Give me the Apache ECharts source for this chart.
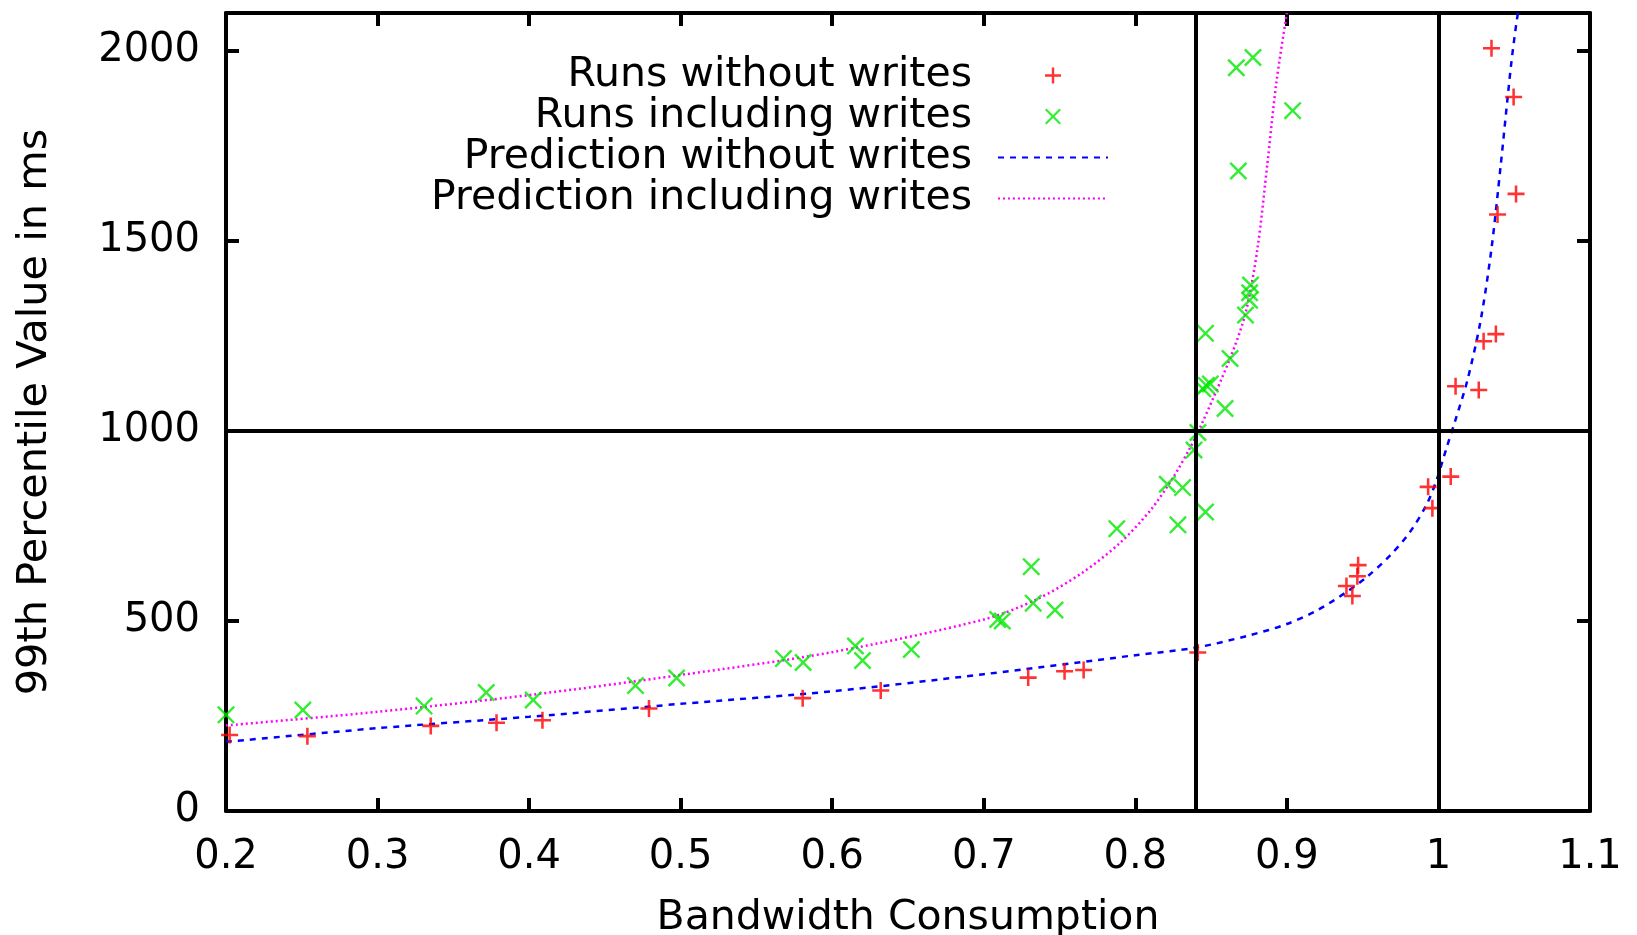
<!DOCTYPE html>
<html>
<head>
<meta charset="utf-8">
<title>99th Percentile vs Bandwidth</title>
<script src="https://cdn.jsdelivr.net/npm/echarts@6/dist/echarts.min.js"></script>
<style>
  html, body { margin: 0; padding: 0; background: #fff; }
  #main { width: 1637px; height: 935px; }
</style>
</head>
<body>
<div id="main"></div>
<script>
// measured runs: [bandwidth consumption, 99th percentile ms]
var runsWithoutWrites = [
  [0.2024, 200], [0.2537, 197], [0.3351, 224], [0.3785, 232], [0.4088, 239],
  [0.4791, 270], [0.5805, 297], [0.632, 317], [0.7293, 351], [0.7533, 368],
  [0.7659, 371], [0.8412, 417], [0.9393, 592], [0.9432, 566], [0.9465, 618],
  [0.947, 647], [0.9932, 853], [0.996, 797], [1.0081, 880], [1.0113, 1118],
  [1.0266, 1108], [1.0298, 1236], [1.035, 2007], [1.0379, 1255], [1.039, 1570],
  [1.0496, 1879], [1.0512, 1624]
];
var runsIncludingWrites = [
  [0.2, 253], [0.2507, 266], [0.3307, 276], [0.3717, 312], [0.4027, 292],
  [0.4702, 330], [0.4973, 350], [0.5678, 401], [0.5808, 391], [0.6153, 434],
  [0.62, 396], [0.6522, 425], [0.7092, 504], [0.7122, 500], [0.7313, 643],
  [0.7326, 547], [0.747, 529], [0.7878, 743], [0.8211, 860], [0.8281, 753],
  [0.8312, 851], [0.8387, 950], [0.8413, 996], [0.8445, 1111], [0.8463, 787],
  [0.8463, 1257], [0.8468, 1120], [0.8495, 1124], [0.8592, 1059], [0.8625, 1191],
  [0.8666, 1956], [0.868, 1684], [0.8727, 1305], [0.8754, 1344], [0.8754, 1364],
  [0.876, 1384], [0.8776, 1983], [0.9038, 1843]
];
// prediction curves
var predictionWithout = [
  [0.2, 182], [0.3, 218], [0.4, 248], [0.5, 282], [0.6, 315], [0.7, 360],
  [0.8, 410], [0.84, 430], [0.875, 462], [0.9, 492], [0.92, 528],
  [0.94, 578], [0.9525, 615], [0.968, 672], [0.981, 733], [0.992, 805], [0.9987, 870],
  [1.0053, 955], [1.0113, 1030], [1.0192, 1135], [1.0278, 1290], [1.035, 1480],
  [1.0411, 1700], [1.0478, 1959], [1.0514, 2073], [1.0525, 2100]
];
var predictionIncluding = [
  [0.2, 225], [0.3, 261], [0.4, 305], [0.5, 358], [0.6, 418], [0.7, 504],
  [0.735, 557], [0.765, 627], [0.79, 706], [0.8105, 794], [0.8256, 882],
  [0.8356, 952], [0.8423, 1005], [0.8625, 1191], [0.8727, 1310], [0.8806, 1480],
  [0.8873, 1710], [0.893, 1915], [0.8997, 2094], [0.9, 2100]
];
// black reference lines
var thresholdX = [0.84, 1.0];
var thresholdY = [1000];

var seriesNames = [
  'Runs without writes',
  'Runs including writes',
  'Prediction without writes',
  'Prediction including writes'
];

var plusPath = 'path://M-1.5,-10L1.5,-10L1.5,-1.5L10,-1.5L10,1.5L1.5,1.5L1.5,10L-1.5,10L-1.5,1.5L-10,1.5L-10,-1.5L-1.5,-1.5Z';
var d = 1.9;
var crossPath = 'path://M-10,' + (-10 + d) + 'L' + (-10 + d) + ',-10L0,' + (-d) + 'L' + (10 - d) + ',-10L10,' + (-10 + d) +
  'L' + d + ',0L10,' + (10 - d) + 'L' + (10 - d) + ',10L0,' + d + 'L' + (-10 + d) + ',10L-10,' + (10 - d) + 'L' + (-d) + ',0Z';

var font = 'DejaVu Sans';
var chart = echarts.init(document.getElementById('main'));

function boxAxis(extra) {
  var base = {
    type: 'value',
    axisLine: { show: true, onZero: false, lineStyle: { color: '#000', width: 4 } },
    axisTick: { show: true, inside: true, length: 13, lineStyle: { color: '#000', width: 4 } },
    splitLine: { show: false },
    axisLabel: { show: false }
  };
  return Object.assign(base, extra);
}

var option = {
  animation: false,
  backgroundColor: '#fff',
  textStyle: { fontFamily: font },
  grid: { left: 226, right: 47, top: 13, bottom: 124, containLabel: false, outerBoundsMode: 'none' },
  legend: {
    orient: 'vertical',
    align: 'right',
    right: 523,
    top: 50,
    itemWidth: 110,
    itemHeight: 16,
    itemGap: 0,
    selectedMode: false,
    textStyle: { fontFamily: font, fontSize: 41, color: '#000', lineHeight: 41, padding: [0, 21, 0, 0] },
    data: [
      { name: seriesNames[0] },
      { name: seriesNames[1] },
      { name: seriesNames[2], itemStyle: { opacity: 0 } },
      { name: seriesNames[3], itemStyle: { opacity: 0 } }
    ]
  },
  xAxis: [
    boxAxis({
      position: 'bottom', min: 0.2, max: 1.1, interval: 0.1,
      name: 'Bandwidth Consumption', nameLocation: 'middle', nameGap: 87,
      nameTextStyle: { fontFamily: font, fontSize: 41, color: '#000' },
      axisLabel: { show: true, fontFamily: font, fontSize: 40, color: '#000', margin: 27 }
    }),
    boxAxis({ position: 'top', min: 0.2, max: 1.1, interval: 0.1 })
  ],
  yAxis: [
    boxAxis({
      position: 'left', min: 0, max: 2100, interval: 500,
      name: '99th Percentile Value in ms', nameLocation: 'middle', nameGap: 170,
      nameTextStyle: { fontFamily: font, fontSize: 41.5, color: '#000' },
      axisLabel: {
        show: true, fontFamily: font, fontSize: 40, color: '#000', margin: 26,
        formatter: function (v) { return v % 500 === 0 ? String(v) : ''; }
      }
    }),
    boxAxis({ position: 'right', min: 0, max: 2100, interval: 500 })
  ],
  series: [
    {
      name: seriesNames[0],
      type: 'scatter',
      symbol: plusPath,
      symbolKeepAspect: true,
      symbolSize: 17,
      itemStyle: { color: '#ff0000' },
      data: runsWithoutWrites,
      z: 3,
      markLine: {
        silent: true,
        symbol: 'none',
        label: { show: false },
        emphasis: { disabled: true },
        lineStyle: { color: '#000', width: 4, type: 'solid' },
        data: thresholdX.map(function (v) { return { xAxis: v }; })
          .concat(thresholdY.map(function (v) { return { yAxis: v }; }))
      }
    },
    {
      name: seriesNames[1],
      type: 'scatter',
      symbol: crossPath,
      symbolKeepAspect: true,
      symbolSize: 18,
      itemStyle: { color: '#00e800' },
      data: runsIncludingWrites,
      z: 3
    },
    {
      name: seriesNames[2],
      type: 'line',
      symbol: 'none',
      showSymbol: false,
      smooth: 0.3,
      lineStyle: { color: '#0000ff', width: 2.5, type: [6, 6] },
      itemStyle: { color: '#0000ff' },
      data: predictionWithout,
      z: 2
    },
    {
      name: seriesNames[3],
      type: 'line',
      symbol: 'none',
      showSymbol: false,
      smooth: 0.3,
      lineStyle: { color: '#ff00ff', width: 2.5, type: [2, 3] },
      itemStyle: { color: '#ff00ff' },
      data: predictionIncluding,
      z: 2
    }
  ]
};

chart.setOption(option);
</script>
</body>
</html>
